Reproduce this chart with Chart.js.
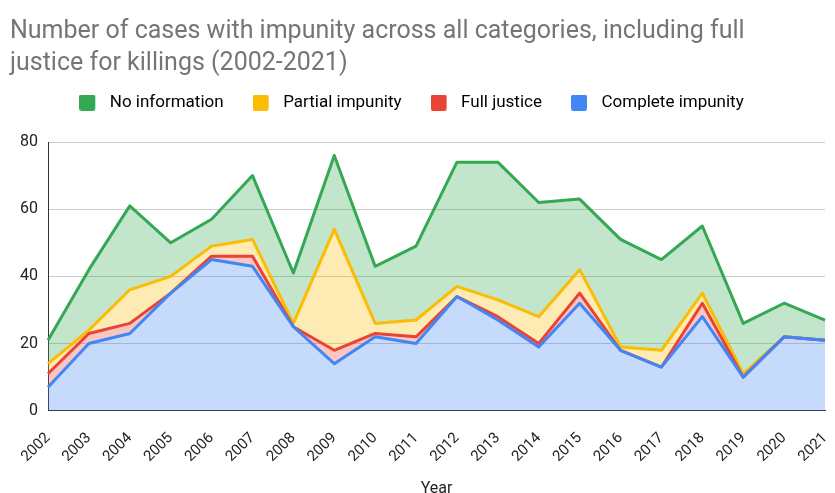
<!DOCTYPE html>
<html>
<head>
<meta charset="utf-8">
<script src="https://cdn.jsdelivr.net/npm/chart.js@4/dist/chart.umd.min.js"></script>
<style>
html,body{margin:0;padding:0;background:#fff;}
#wrap{width:835px;height:493px;position:relative;}
</style>
</head>
<body>
<div id="wrap"><canvas id="c"></canvas></div>
<script>
const years = ["2002","2003","2004","2005","2006","2007","2008","2009","2010","2011","2012","2013","2014","2015","2016","2017","2018","2019","2020","2021"];
const completeImpunity = [7,20,23,35,45,43,25,14,22,20,34,27,19,32,18,13,28,10,22,21];
const fullJustice      = [4,3,3,0,1,3,0,4,1,2,0,1,1,3,0,0,4,0,0,0];
const partialImpunity  = [3,1,10,5,3,5,1,36,3,5,3,5,8,7,1,5,3,1,0,0];
const noInformation    = [7,18,25,10,8,19,15,22,17,22,37,41,34,21,32,27,20,15,10,6];
const yTicks = [0,20,40,60,80];

const font = "Roboto, 'Liberation Sans', Arial, sans-serif";
function swatch(color){
  const c = document.createElement('canvas');
  c.width = 22; c.height = 16;
  const g = c.getContext('2d');
  g.fillStyle = color;
  g.beginPath();
  if (g.roundRect) g.roundRect(0, 0, 16, 16, 2); else g.rect(0, 0, 16, 16);
  g.fill();
  return c;
}
function ds(label, data, color, fillColor, fill){
  return {label, data, borderColor: color, backgroundColor: fillColor, fill,
    borderWidth: 3, pointRadius: 0, tension: 0, borderJoinStyle: 'round'};
}
const layoutTweaks = {
  id: 'layoutTweaks',
  beforeLayout(chart){
    const lg = chart.legend;
    if (lg && !lg._wrapped){
      const f = lg.fit;
      lg.fit = function(){ f.call(this); this.height += 21; };
      lg._wrapped = true;
    }
  },
  afterLayout(chart){
    const lg = chart.legend;
    if (lg){ lg.left -= 6; lg.right -= 6; }
  }
};
new Chart(document.getElementById('c'), {
  type: 'line',
  data: {
    labels: years,
    datasets: [
      ds('Complete impunity', completeImpunity, '#4285F4', 'rgba(66,133,244,0.3)', 'origin'),
      ds('Full justice', fullJustice, '#EA4335', 'rgba(234,67,53,0.3)', '-1'),
      ds('Partial impunity', partialImpunity, '#FBBC04', 'rgba(251,188,4,0.3)', '-1'),
      ds('No information', noInformation, '#34A853', 'rgba(52,168,83,0.3)', '-1')
    ]
  },
  plugins: [layoutTweaks],
  options: {
    responsive: true, maintainAspectRatio: false, animation: false,
    layout: {padding: {left: 10, right: 10, top: 16, bottom: 0}},
    plugins: {
      title: {display: true, align: 'start', text: ['Number of cases with impunity across all categories, including full', 'justice for killings (2002-2021)'],
        color: '#757575', font: {family: font, size: 25, weight: 'normal', lineHeight: 1.28}, padding: {top: 0, bottom: -15}},
      legend: {reverse: true, position: 'top', align: 'center',
        labels: {usePointStyle: true, pointStyleWidth: 22, boxHeight: 16, padding: 29, color: '#222', font: {family: font, size: 17},
          generateLabels: (chart) => chart.data.datasets.map((d,i)=>({text: d.label, pointStyle: swatch(d.borderColor), fillStyle: d.borderColor, strokeStyle: d.borderColor, lineWidth: 0, datasetIndex: i, hidden: false}))}},
      tooltip: {enabled: false}
    },
    scales: {
      x: {offset: false, grid: {display: false, drawTicks: false}, border: {display: true, color: '#333', width: 1},
        afterFit: (axis)=>{ axis.paddingRight = 0; },
        ticks: {color: '#222', font: {family: font, size: 15}, maxRotation: 45, minRotation: 45, autoSkip: false, padding: 18.5},
        title: {display: true, text: 'Year', color: '#222', font: {family: font, size: 16}, padding: {top: -4.5, bottom: -6}}},
      y: {stacked: true, min: 0, max: 80,
        afterBuildTicks: (axis)=>{axis.ticks = yTicks.map(v=>({value:v}));},
        afterFit: (axis)=>{ axis.width = 38; },
        grid: {color: '#cccccc', drawTicks: false}, border: {display: true, color: '#333', width: 1},
        ticks: {color: '#222', font: {family: font, size: 16}, padding: 10}}
    }
  }
});
</script>
</body>
</html>
